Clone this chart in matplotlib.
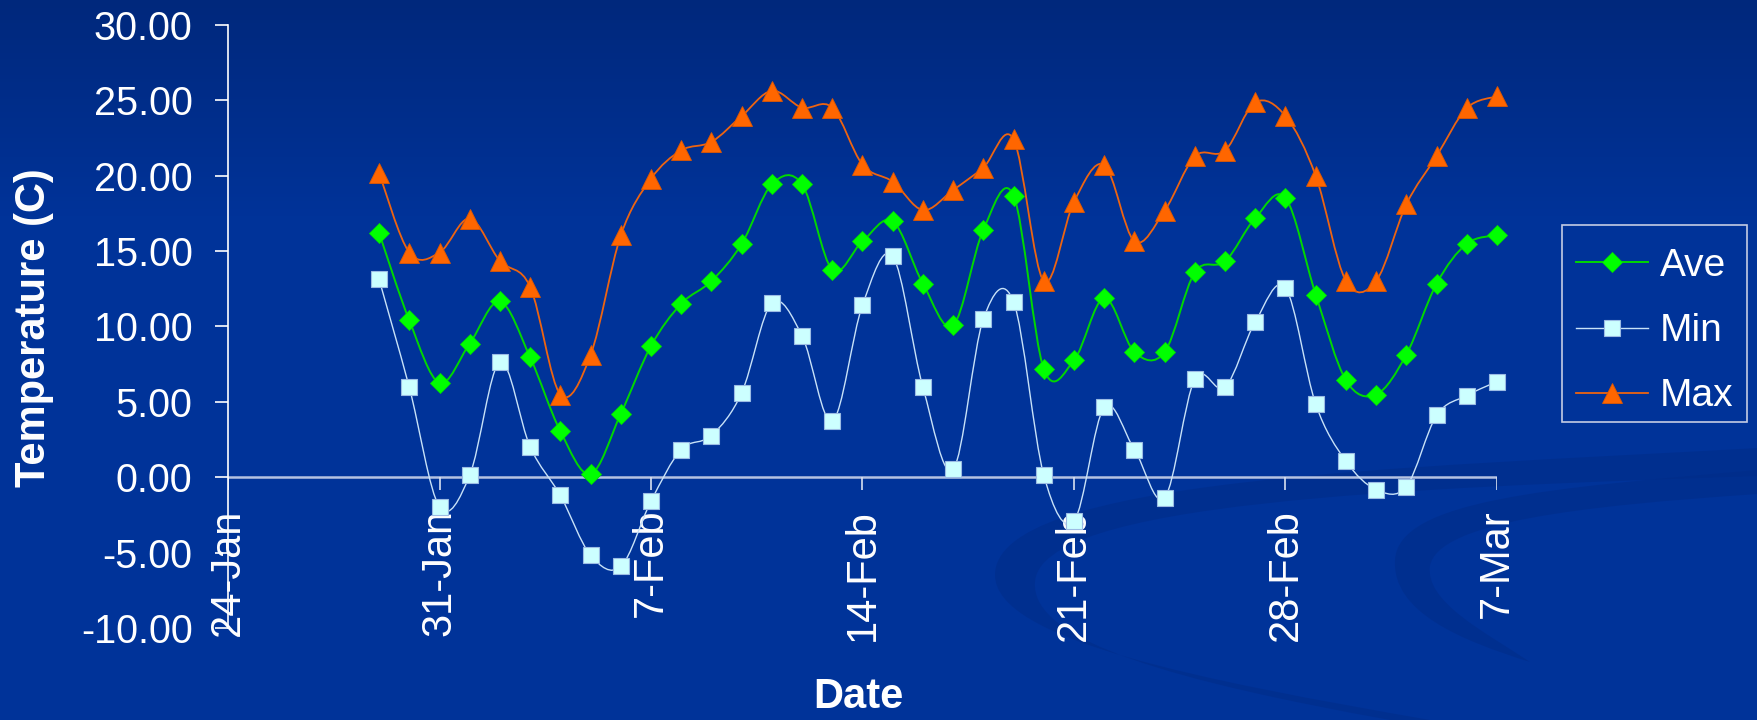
import numpy as np
import pandas as pd
import matplotlib
matplotlib.use("Agg")
import matplotlib.pyplot as plt
import matplotlib.dates as mdates
from matplotlib.path import Path
from matplotlib.patches import PathPatch, Rectangle
from matplotlib.lines import Line2D

plt.rcParams["font.family"] = ["Liberation Sans", "DejaVu Sans"]

# daily readings, 29 Jan - 7 Mar
dates = pd.date_range("2007-01-29", "2007-03-07", freq="D")

ave = [16.2, 10.4, 6.25, 8.86, 11.65, 7.95, 3.05, 0.2, 4.2, 8.7,
       11.5, 13.0, 15.46, 19.42, 19.42, 13.76, 15.64, 16.97, 12.83, 10.06,
       16.41, 18.67, 7.18, 7.75, 11.88, 8.30, 8.30, 13.59, 14.31, 17.18,
       18.51, 12.11, 6.43, 5.48, 8.13, 12.83, 15.48, 16.04]

tmin = [13.12, 5.96, -1.97, 0.13, 7.64, 2.01, -1.21, -5.17, -5.92, -1.59,
        1.83, 2.76, 5.59, 11.55, 9.37, 3.71, 11.42, 14.65, 5.96, 0.51,
        10.49, 11.62, 0.13, -2.9, 4.64, 1.83, -1.37, 6.51, 5.96, 10.3,
        12.55, 4.84, 1.06, -0.82, -0.62, 4.09, 5.41, 6.34]

tmax = [20.17, 14.89, 14.89, 17.15, 14.34, 12.62, 5.48, 8.10, 16.03, 19.79,
        21.67, 22.23, 23.94, 25.62, 24.5, 24.5, 20.72, 19.59, 17.71, 19.04,
        20.53, 22.4, 12.99, 18.26, 20.7, 15.64, 17.67, 21.27, 21.65, 24.85,
        23.94, 19.98, 13.01, 13.01, 18.09, 21.29, 24.47, 25.25]

tick_dates = pd.date_range("2007-01-24", "2007-03-07", freq="7D")
tick_labels = [f"{d.day}-{d:%b}" for d in tick_dates]

W, H, DPI = 1758, 720, 100


def smooth_path(x, y):
    """Excel-style smoothed line: cubic Bezier through every point."""
    x = np.asarray(x, float)
    y = np.asarray(y, float)
    pts = np.column_stack([x, y])
    n = len(pts)
    verts = [pts[0]]
    codes = [Path.MOVETO]
    for i in range(n - 1):
        p0 = pts[i - 1] if i > 0 else pts[i]
        p1 = pts[i]
        p2 = pts[i + 1]
        p3 = pts[i + 2] if i + 2 < n else pts[i + 1]
        c1 = p1 + (p2 - p0) / 6.0
        c2 = p2 - (p3 - p1) / 6.0
        verts += [c1, c2, p2]
        codes += [Path.CURVE4] * 3
    return Path(verts, codes)


fig = plt.figure(figsize=(W / DPI, H / DPI), dpi=DPI)

# background: navy gradient with darker swooshes
bg = fig.add_axes([0, 0, 1, 1], zorder=-10)
bg.set_xlim(0, W)
bg.set_ylim(H, 0)
bg.axis("off")
top = np.array([0x00, 0x28, 0x7C]) / 255
mid = np.array([0x00, 0x33, 0x99]) / 255
t = np.clip(np.linspace(0, 1, H) / 0.3, 0, 1)[:, None]
grad = (top * (1 - t) + mid * t)[:, None, :] * np.ones((1, 2, 1))
bg.imshow(grad, extent=[0, W, H, 0], aspect="auto", zorder=0)

swooshes = [
    [(1758, 448), (1400, 468), (995, 478), (995, 575), (995, 640), (1200, 680), (1430, 720),
     (1390, 720), (1180, 682), (1030, 642), (1035, 582), (1040, 502), (1400, 488), (1758, 476)],
    [(1758, 470), (1550, 488), (1398, 500), (1395, 560), (1392, 612), (1460, 640), (1530, 662),
     (1485, 632), (1425, 602), (1430, 566), (1438, 522), (1580, 506), (1758, 494)],
]
for sw in swooshes:
    codes = [Path.MOVETO] + [Path.CURVE4] * 6
    if len(sw) == 14:
        codes += [Path.LINETO] + [Path.CURVE4] * 6
    else:
        codes += [Path.CURVE4] * 6
    verts = sw + [sw[0]]
    codes = codes + [Path.CLOSEPOLY]
    bg.add_patch(PathPatch(Path(verts, codes), facecolor="#002C88",
                           edgecolor="none", alpha=0.55, zorder=1))

# legend frame
bg.add_patch(Rectangle((1562, 225), 185, 197, facecolor="none",
                       edgecolor="#C4CCE4", lw=1.2, zorder=2))

# plot area
ax = fig.add_axes([228 / W, (H - 628) / H, (1497 - 228) / W, (628 - 24.7) / H])
ax.patch.set_alpha(0)
x0 = mdates.date2num(tick_dates[0])
x1 = mdates.date2num(tick_dates[-1])
ax.set_xlim(x0, x1)
ax.set_ylim(-10, 30)

for s in ["top", "right", "bottom"]:
    ax.spines[s].set_visible(False)
ax.spines["left"].set_color("white")
ax.spines["left"].set_linewidth(1.2)

ax.set_yticks(np.arange(-10, 31, 5))
ax.set_yticklabels([f"{v:.2f}" for v in np.arange(-10, 31, 5)])
ax.tick_params(axis="y", colors="white", labelsize=28.5, length=9.5, width=1.2,
               pad=16, direction="out")
ax.set_xticks([])

# zero line with weekly ticks hanging below it
ax.axhline(0, color="#B4C2E2", lw=1.8, zorder=1)
xt = mdates.date2num(tick_dates)
ax.vlines(xt, -0.86, 0, color="#D8E0F0", lw=1.2, zorder=1)
for xv, lab in zip(xt, tick_labels):
    ax.text(xv, -2.1, lab, rotation=90, ha="center", va="top", fontsize=30,
            color="white", zorder=2)

xd = mdates.date2num(dates)
series = [
    ("Ave", ave, "#00D800", 1.4, dict(marker="D", markersize=10.2, markerfacecolor="#00FF00",
                                      markeredgecolor="#00E000", markeredgewidth=0.6)),
    ("Min", tmin, "#C8E2F8", 1.0, dict(marker="s", markersize=12.2, markerfacecolor="#CCFFFF",
                                       markeredgecolor="#9CBCE4", markeredgewidth=0.8)),
    ("Max", tmax, "#EE6410", 1.3, dict(marker="^", markersize=14, markerfacecolor="#FF6600",
                                       markeredgecolor="#E05800", markeredgewidth=0.6)),
]
handles = []
for name, vals, lc, lw, mk in series:
    ax.add_patch(PathPatch(smooth_path(xd, vals), facecolor="none", edgecolor=lc,
                           lw=lw, zorder=3, clip_on=False))
    ax.plot(xd, vals, linestyle="none", zorder=4, clip_on=False, **mk)
    handles.append(Line2D([], [], color=lc, lw=lw, **mk))

leg = fig.legend(handles, [s[0] for s in series], loc="upper left",
                 bbox_to_anchor=(1576 / W, 1 - 248 / H), fontsize=28,
                 frameon=False, handlelength=1.85, handletextpad=0.3,
                 borderpad=0, labelspacing=0.75, borderaxespad=0)
for txt in leg.get_texts():
    txt.set_color("white")

fig.text(34 / W, 1 - 328 / H, "Temperature (C)", rotation=90, ha="center",
         va="center", fontsize=30, fontweight="bold", color="white")
fig.text(858 / W, 1 - 697 / H, "Date", ha="center", va="center", fontsize=30,
         fontweight="bold", color="white")

fig.savefig("out.png", dpi=DPI)
